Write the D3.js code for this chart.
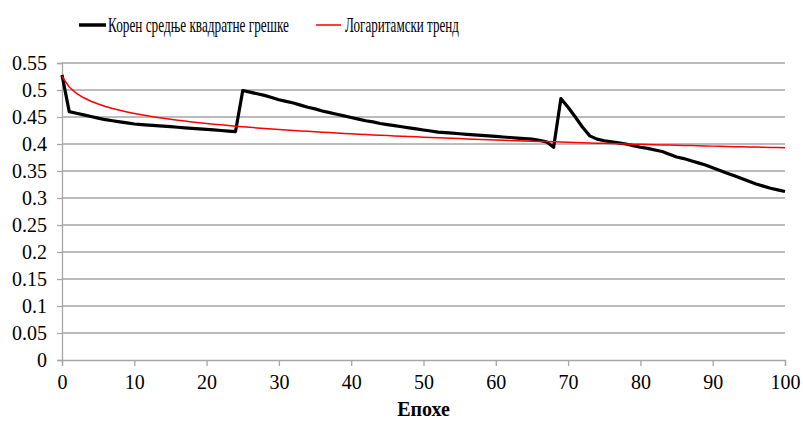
<!DOCTYPE html>
<html><head><meta charset="utf-8">
<script src="https://cdn.jsdelivr.net/npm/d3@7"></script>
<style>body{margin:0;background:#fff;} svg{display:block;}</style>
</head><body><svg id="c" width="803" height="422"></svg>
<script>
const epochs = d3.range(0, 101);
const rmse = [
0.528,0.460,0.457,0.454,0.451,0.448,0.445,0.443,0.441,0.439,
0.437,0.436,0.435,0.434,0.433,0.432,0.431,0.430,0.429,0.428,
0.427,0.426,0.425,0.424,0.423,0.499,0.496,0.493,0.490,0.486,
0.482,0.479,0.476,0.472,0.468,0.465,0.461,0.458,0.455,0.452,
0.449,0.446,0.443,0.441,0.438,0.436,0.434,0.432,0.430,0.428,
0.426,0.424,0.422,0.421,0.420,0.419,0.418,0.417,0.416,0.415,
0.414,0.413,0.412,0.411,0.410,0.409,0.407,0.404,0.394,0.484,
0.468,0.450,0.431,0.415,0.409,0.406,0.404,0.402,0.400,0.397,
0.394,0.392,0.389,0.386,0.381,0.376,0.373,0.369,0.365,0.361,
0.356,0.351,0.346,0.341,0.336,0.331,0.326,0.322,0.318,0.315,
0.312];
const yTicks = [0,0.05,0.1,0.15,0.2,0.25,0.3,0.35,0.4,0.45,0.5,0.55];
const yTickLabels = ["0","0.05","0.1","0.15","0.2","0.25","0.3","0.35","0.4","0.45","0.5","0.55"];
const xTicks = [0,10,20,30,40,50,60,70,80,90,100];
const seriesNames = ["Корен средње квадратне грешке","Логаритамски тренд"];
const xTitle = "Епохе";

// Logarithmic trend (least squares on ln(index), index = epoch+1, as a spreadsheet trendline)
const lx = epochs.map(e => Math.log(e + 1));
const mx = d3.mean(lx), my = d3.mean(rmse);
const b = d3.sum(lx.map((v,i)=>(v-mx)*(rmse[i]-my))) / d3.sum(lx.map(v=>(v-mx)*(v-mx)));
const a = my - b*mx;
const trend = lx.map(v => a + b*v);

const svg = d3.select("#c");
const L = 62, R = 785, T = 63, B = 360;
const x = d3.scaleLinear().domain([0,100]).range([L,R]);
const y = d3.scaleLinear().domain([0,0.55]).range([B,T]);
const font = '"Liberation Serif"';

// gridlines
svg.append("g").selectAll("line").data(yTicks.filter(d=>d>0)).join("line")
  .attr("x1",L).attr("x2",R).attr("y1",d=>y(d)).attr("y2",d=>y(d))
  .attr("stroke","#a6a6a6").attr("stroke-width",1.3);

// y axis
const yAxis = d3.axisLeft(y).tickValues(yTicks).tickFormat((d,i)=>yTickLabels[i]).tickSize(5).tickPadding(10);
const gy = svg.append("g").attr("transform",`translate(${L},0)`).call(yAxis);
gy.select(".domain").attr("stroke","#a6a6a6").attr("stroke-width",1.3);
gy.selectAll(".tick line").attr("stroke","#a6a6a6").attr("stroke-width",1.3);
gy.selectAll("text").style("font-family",font).style("font-size","20px").attr("fill","#000");

// x axis
const xAxis = d3.axisBottom(x).tickValues(xTicks).tickFormat(d3.format("d")).tickSize(6).tickPadding(9);
const gx = svg.append("g").attr("transform",`translate(0,${B})`).call(xAxis);
gx.select(".domain").attr("stroke","#a6a6a6").attr("stroke-width",1.3);
gx.selectAll(".tick line").attr("stroke","#a6a6a6").attr("stroke-width",1.3);
gx.selectAll("text").style("font-family",font).style("font-size","20px").attr("fill","#000");

// lines
const line = d3.line().x((d,i)=>x(epochs[i])).y(d=>y(d));
svg.append("path").datum(rmse).attr("d",line).attr("fill","none")
  .attr("stroke","#000").attr("stroke-width",3.2).attr("stroke-linejoin","round");
svg.append("path").datum(trend).attr("d",line).attr("fill","none")
  .attr("stroke","#ff0000").attr("stroke-width",1.5);

// x title
svg.append("text").attr("x",(L+R)/2).attr("y",416).attr("text-anchor","middle")
  .style("font-family",font).style("font-size","20px").style("font-weight","bold").text(xTitle);

// legend (text horizontally condensed to the reference width via a scale transform)
const leg = [{x1:79,x2:106,tx:108,tw:181,c:"#000",w:3.5},{x1:316,x2:341,tx:345,tw:114,c:"#ff0000",w:1.5}];
leg.forEach((l,i)=>{
  svg.append("line").attr("x1",l.x1).attr("x2",l.x2).attr("y1",25).attr("y2",25)
    .attr("stroke",l.c).attr("stroke-width",l.w);
  const g = svg.append("g").attr("transform",`translate(${l.tx},32)`);
  const t = g.append("text").attr("x",0).attr("y",0).style("font-family",font).style("font-size","20px")
    .text(seriesNames[i]);
  const w = t.node().getComputedTextLength();
  g.attr("transform",`translate(${l.tx},32) scale(${l.tw / w},1)`);
});
</script></body></html>
